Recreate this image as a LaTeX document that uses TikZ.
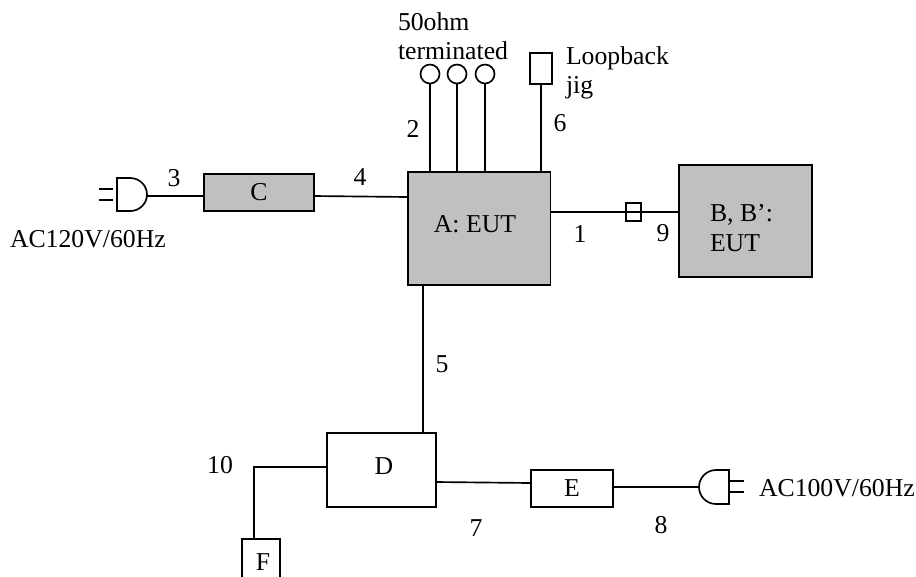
\documentclass[tikz,border=0pt]{standalone}
\usepackage{fontspec}
\setmainfont{Liberation Serif}
\usetikzlibrary{positioning}
\tikzset{
  box/.style={draw=black,rectangle,inner sep=0pt,outer sep=0pt},
  greybox/.style={box,fill=boxgrey},
  term/.style={draw=black,circle,inner sep=0pt,outer sep=0pt,minimum size=14.25pt},
  lbl/.style={inner sep=0pt,outer sep=0pt,align=left}
}
\definecolor{boxgrey}{RGB}{192,192,192}
\begin{document}
\begin{tikzpicture}[x=0.75pt,y=-0.75pt,line width=1.25pt,font=\fontsize{19.3}{22}\selectfont]
\useasboundingbox (0,0) rectangle (916,576);
\node [greybox,minimum width=107pt,minimum height=84.75pt] (A) at (479,228.5) {};
\node [lbl] (Atext) at (475,224) {A: EUT};
\node [greybox,minimum width=99.75pt,minimum height=84pt] (B) at (745.5,221) {};
\node [lbl,anchor=west] (Btext) at (710,228) {B, B’:\\EUT};
\node [greybox,minimum width=82.5pt,minimum height=27.75pt] (C) at (259,192.5) {C};
\node [box,minimum width=81.75pt,minimum height=55.5pt] (D) at (381.5,470) {};
\node [lbl] (Dtext) at (384,466) {D};
\node [box,minimum width=61.5pt,minimum height=27.75pt] (E) at (572,488.5) {E};
\node [box,minimum width=28.5pt,minimum height=33pt] (F) at (261,561) {};
\node [lbl] (Ftext) at (263,562) {F};
\node [box,minimum width=11.25pt,minimum height=13.5pt] (J) at (633.5,212) {};
\node [term] (T1) at (430,74) {};
\node [term] (T2) at (457,74) {};
\node [term] (T3) at (485,74) {};
\node [box,minimum width=16.5pt,minimum height=23.25pt] (L) at (541,68.5) {};
\coordinate (PL) at (147,196);
\coordinate (PR) at (699,487);
\coordinate (K) at (254,467);
\draw [black] (PL) -- (PL -| C.west);
\draw [black] (C.east |- 314,196) -- (A.west |- 408,197);
\draw [black] (A.east |- J) -- (J.west);
\draw [black] (J.west) -- (J.east);
\draw [black] (J.east) -- (J -| B.west);
\draw [black] (T1.south) -- (T1.south |- A.north);
\draw [black] (T2.south) -- (T2.south |- A.north);
\draw [black] (T3.south) -- (T3.south |- A.north);
\draw [black] (L.south) -- (L.south |- A.north);
\draw [black] (423,285 |- A.south) -- (423,285 |- D.north);
\draw [black] (D.west |- K) -- (K) -- (K |- F.north);
\draw [black] (D.east |- 436,482) -- (E.west |- 531,483);
\draw [black] (E.east |- PR) -- (PR);
\draw [black] (117,178) -- (130,178) arc [start angle=90,end angle=-90,x radius=12.75pt,y radius=12.4pt] -- (117,211) -- cycle;
\draw [black] (99,189) -- (113,189);
\draw [black] (99,200) -- (113,200);
\draw [black] (729,470) -- (716,470) arc [start angle=90,end angle=270,x radius=12.75pt,y radius=12.75pt] -- (729,504) -- cycle;
\draw [black] (729,481) -- (744,481);
\draw [black] (729,492) -- (744,492);
\node [lbl,anchor=west] (acl) at (10,239) {AC120V/60Hz};
\node [lbl,anchor=west] (acr) at (759,488) {AC100V/60Hz};
\node [lbl,anchor=west] (termtext) at (398,36) {50ohm\\terminated};
\node [lbl,anchor=west] (looptext) at (566,73) {Loopback\\jig};
\node [lbl] (n1) at (580,234) {1};
\node [lbl] (n2) at (413,129) {2};
\node [lbl] (n3) at (174,178) {3};
\node [lbl] (n4) at (360,177) {4};
\node [lbl] (n5) at (442,364) {5};
\node [lbl] (n6) at (560,123) {6};
\node [lbl] (n7) at (476,528) {7};
\node [lbl] (n8) at (661,525) {8};
\node [lbl] (n9) at (663,233) {9};
\node [lbl] (n10) at (220,465) {10};
\end{tikzpicture}
\end{document}
